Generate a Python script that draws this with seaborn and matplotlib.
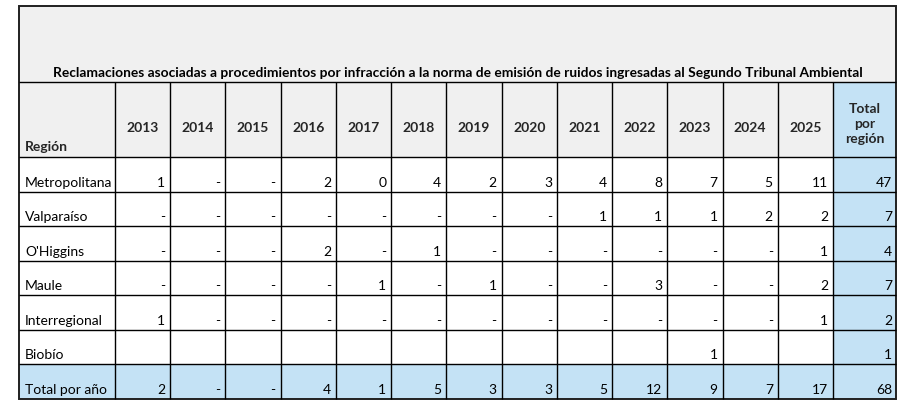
import numpy as np
import pandas as pd
import seaborn as sns
import matplotlib.pyplot as plt
from matplotlib.colors import ListedColormap
from matplotlib.patches import Rectangle

titulo = ("Reclamaciones asociadas a procedimientos por infracción a la norma de emisión "
          "de ruidos ingresadas al Segundo Tribunal Ambiental")
anios = ["2013", "2014", "2015", "2016", "2017", "2018", "2019",
         "2020", "2021", "2022", "2023", "2024", "2025"]
regiones = ["Metropolitana", "Valparaíso", "O'Higgins", "Maule", "Interregional", "Biobío"]

# celdas tal como aparecen: "-" = cero, "" = vacía
metropolitana = ["1", "-", "-", "2", "0", "4", "2", "3", "4", "8", "7", "5", "11"]
valparaiso = ["-", "-", "-", "-", "-", "-", "-", "-", "1", "1", "1", "2", "2"]
ohiggins = ["-", "-", "-", "2", "-", "1", "-", "-", "-", "-", "-", "-", "1"]
maule = ["-", "-", "-", "-", "1", "-", "1", "-", "-", "3", "-", "-", "2"]
interregional = ["1", "-", "-", "-", "-", "-", "-", "-", "-", "-", "-", "-", "1"]
biobio = ["", "", "", "", "", "", "", "", "", "", "1", "", ""]
total_anio = ["2", "-", "-", "4", "1", "5", "3", "3", "5", "12", "9", "7", "17"]
total_region = [47, 7, 4, 7, 2, 1]
total_general = 68

filas = regiones + ["Total por año"]
tabla = pd.DataFrame([metropolitana, valparaiso, ohiggins, maule, interregional, biobio, total_anio],
                     index=filas, columns=anios)
totales = pd.DataFrame({"Total por región": total_region + [total_general]}, index=filas)

azul = "#C4E2F5"
gris = "#F0F0F0"
cmap = ListedColormap(["white", azul])

W, H = 905, 415
x_izq, x_reg, x_fin_anios, x_der = 19, 115, 833, 896
y_sup, y_tit, y_cab, y_inf = 6, 82, 157, 399

sns.set_theme(style="white")
plt.rcParams["font.family"] = ["Lato", "DejaVu Sans"]
fs = 10.0
fs_tit = 9.9

fig = plt.figure(figsize=(W / 100, H / 100), dpi=100)


def caja(x0, x1, y0, y1):
    return fig.add_axes([x0 / W, 1 - y1 / H, (x1 - x0) / W, (y1 - y0) / H])


n = len(filas)
rol = np.zeros((n, 1))
rol[-1] = 1

# columna de regiones
ax_r = caja(x_izq, x_reg, y_cab, y_inf)
sns.heatmap(pd.DataFrame(rol, index=filas), cmap=cmap, vmin=0, vmax=1, cbar=False,
            xticklabels=False, yticklabels=False, ax=ax_r)
for i, nombre in enumerate(filas):
    ax_r.text(0.065, i + 0.74, nombre, ha="left", va="center", fontsize=fs, color="black")

# columnas de años
rol_anios = np.zeros(tabla.shape)
rol_anios[-1, :] = 1
ax_a = caja(x_reg, x_fin_anios, y_cab, y_inf)
sns.heatmap(pd.DataFrame(rol_anios, index=filas, columns=anios), cmap=cmap, vmin=0, vmax=1,
            cbar=False, xticklabels=False, yticklabels=False, ax=ax_a)
for i in range(n):
    for j in range(len(anios)):
        ax_a.text(j + 0.91, i + 0.74, tabla.iloc[i, j], ha="right", va="center",
                  fontsize=fs, color="black")

# columna de totales
ax_t = caja(x_fin_anios, x_der, y_cab, y_inf)
sns.heatmap(totales * 0 + 1, cmap=cmap, vmin=0, vmax=1, cbar=False,
            xticklabels=False, yticklabels=False, ax=ax_t)
for i, v in enumerate(totales.iloc[:, 0]):
    ax_t.text(0.94, i + 0.74, str(v), ha="right", va="center", fontsize=fs, color="black")

# capa superior: título, cabecera y bordes
ax = fig.add_axes([0, 0, 1, 1])
ax.set_xlim(0, W)
ax.set_ylim(H, 0)
ax.axis("off")
ax.add_patch(Rectangle((x_izq, y_sup), x_der - x_izq, y_cab - y_sup, facecolor=gris,
                       edgecolor="none", zorder=0))
ax.add_patch(Rectangle((x_fin_anios, y_tit), x_der - x_fin_anios, y_cab - y_tit, facecolor=azul,
                       edgecolor="none", zorder=0))

ax.text((x_izq + x_der) / 2, 73, titulo, ha="center", va="center", fontsize=fs_tit,
        fontweight="bold", color="black")
ax.text(x_izq + 6, 147, "Región", ha="left", va="center", fontsize=fs, fontweight="bold")
ancho = (x_fin_anios - x_reg) / len(anios)
for j, a in enumerate(anios):
    ax.text(x_reg + (j + 0.5) * ancho, 128, a, ha="center", va="center", fontsize=fs,
            fontweight="bold")
ax.text((x_fin_anios + x_der) / 2, 124, "Total\npor\nregión", ha="center", va="center",
        fontsize=fs, fontweight="bold", linespacing=1.3)

lw = 1.0
alto = (y_inf - y_cab) / n
ax.hlines([y_tit, y_cab] + [y_cab + k * alto for k in range(1, n)], x_izq, x_der,
          color="black", lw=lw)
ax.vlines([x_reg + k * ancho for k in range(len(anios) + 1)], y_tit, y_inf, color="black", lw=lw)
ax.add_patch(Rectangle((x_izq, y_sup), x_der - x_izq, y_inf - y_sup, fill=False,
                       edgecolor="#202020", lw=1.4))

fig.savefig("out.png", dpi=100)
